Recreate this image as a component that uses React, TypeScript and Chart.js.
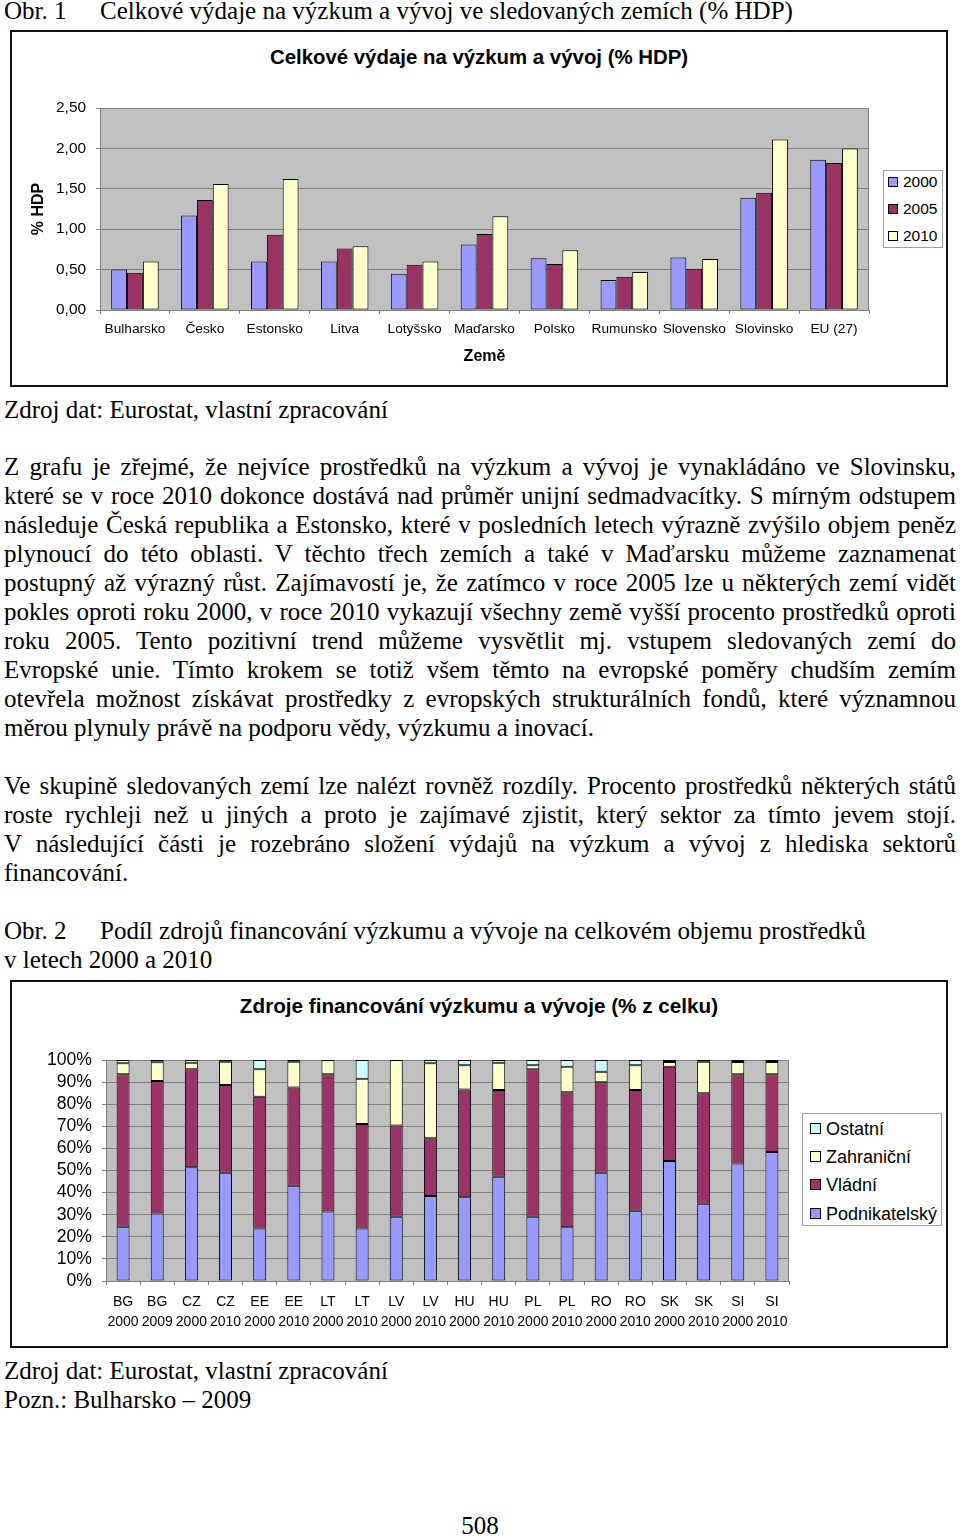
import React, { useEffect, useRef } from "react";
import { Chart, registerables } from "chart.js";

Chart.register(...registerables);
Chart.defaults.font.family = '"Liberation Sans", Arial, sans-serif';
Chart.defaults.color = "#000";

// ---------- Chart 1 data ----------
const countries = ["Bulharsko", "Česko", "Estonsko", "Litva", "Lotyšsko", "Maďarsko", "Polsko", "Rumunsko", "Slovensko", "Slovinsko", "EU (27)"];
const years1 = ["2000", "2005", "2010"];
const rd2000 = [0.50, 1.17, 0.60, 0.60, 0.45, 0.81, 0.64, 0.37, 0.65, 1.39, 1.86];
const rd2005 = [0.46, 1.36, 0.93, 0.76, 0.56, 0.94, 0.57, 0.41, 0.51, 1.45, 1.82];
const rd2010 = [0.60, 1.56, 1.62, 0.79, 0.60, 1.16, 0.74, 0.47, 0.63, 2.11, 2.00];
const yearColors = ["#9999FF", "#993366", "#FFFFCC"];

// ---------- Chart 2 data ----------
const sourceLabels = [
  ["BG", "2000"], ["BG", "2009"], ["CZ", "2000"], ["CZ", "2010"], ["EE", "2000"], ["EE", "2010"],
  ["LT", "2000"], ["LT", "2010"], ["LV", "2000"], ["LV", "2010"], ["HU", "2000"], ["HU", "2010"],
  ["PL", "2000"], ["PL", "2010"], ["RO", "2000"], ["RO", "2010"], ["SK", "2000"], ["SK", "2010"],
  ["SI", "2000"], ["SI", "2010"],
];
const podnikatelsky = [24.5, 30.5, 51.5, 49, 23.7, 43.1, 31.4, 23.7, 29.1, 38.5, 37.9, 47.2, 29.1, 24.3, 49, 31.8, 54.3, 35, 53.2, 58.4];
const vladni = [69, 60, 44.3, 39.7, 59.7, 44.5, 62.1, 47.3, 41.3, 26.1, 48.8, 39.2, 66.7, 61.1, 40.9, 54.6, 42.7, 49.9, 40.3, 35.1];
const zahranicni = [5, 8.5, 3, 10.5, 12.4, 11.6, 6.5, 20.5, 29.6, 33.9, 10.9, 12.4, 1.8, 11.6, 4.8, 11.2, 2.1, 14.3, 5.6, 5.6];
const ostatni = [1.5, 1, 1.2, 0.8, 4.2, 0.8, 0, 8.5, 0, 1.5, 2.4, 1.2, 2.4, 3, 5.3, 2.4, 0.9, 0.8, 0.9, 0.9];
const sourceNames = ["Podnikatelský", "Vládní", "Zahraniční", "Ostatní"];
const sourceColors = ["#9999FF", "#993366", "#FFFFCC", "#CCFFFF"];

// ---------- Text ----------
const para1 = [
  "Z grafu je zřejmé, že nejvíce prostředků na výzkum a vývoj je vynakládáno ve Slovinsku,",
  "které se v roce 2010 dokonce dostává nad průměr unijní sedmadvacítky. S mírným odstupem",
  "následuje Česká republika a Estonsko, které v posledních letech výrazně zvýšilo objem peněz",
  "plynoucí do této oblasti. V těchto třech zemích a také v Maďarsku můžeme zaznamenat",
  "postupný až výrazný růst. Zajímavostí je, že zatímco v roce 2005 lze u některých zemí vidět",
  "pokles oproti roku 2000, v roce 2010 vykazují všechny země vyšší procento prostředků oproti",
  "roku 2005. Tento pozitivní trend můžeme vysvětlit mj. vstupem sledovaných zemí do",
  "Evropské unie. Tímto krokem se totiž všem těmto na evropské poměry chudším zemím",
  "otevřela možnost získávat prostředky z evropských strukturálních fondů, které významnou",
  "měrou plynuly právě na podporu vědy, výzkumu a inovací.",
];
const para2 = [
  "Ve skupině sledovaných zemí lze nalézt rovněž rozdíly. Procento prostředků některých států",
  "roste rychleji než u jiných a proto je zajímavé zjistit, který sektor za tímto jevem stojí.",
  "V následující části je rozebráno složení výdajů na výzkum a vývoj z hlediska sektorů",
  "financování.",
];

const plotBg = {
  id: "plotBg",
  beforeDraw(chart: any) {
    const { ctx, chartArea } = chart;
    ctx.save();
    ctx.fillStyle = "#C0C0C0";
    ctx.fillRect(chartArea.left, chartArea.top, chartArea.right - chartArea.left, chartArea.bottom - chartArea.top);
    ctx.restore();
  },
  beforeDatasetsDraw(chart: any) {
    const { ctx, chartArea } = chart;
    ctx.save();
    ctx.strokeStyle = "#808080";
    ctx.lineWidth = 1;
    ctx.strokeRect(Math.round(chartArea.left) + 0.5, Math.round(chartArea.top) + 0.5, Math.round(chartArea.right - chartArea.left) - 1, Math.round(chartArea.bottom - chartArea.top));
    ctx.restore();
  },
};

function ChartCanvas({ config, left, top, width, height }: any) {
  const ref = useRef<HTMLCanvasElement>(null);
  useEffect(() => {
    const chart = new Chart(ref.current as HTMLCanvasElement, config);
    return () => chart.destroy();
  }, []);
  return (
    <canvas
      ref={ref}
      width={width}
      height={height}
      style={{ position: "absolute", left, top, width, height, display: "block" }}
    />
  );
}

const chart1Config: any = {
  type: "bar",
  data: {
    labels: countries,
    datasets: [rd2000, rd2005, rd2010].map((d, i) => ({
      label: years1[i],
      data: d,
      backgroundColor: yearColors[i],
      borderColor: "#000",
      borderWidth: 1,
      borderSkipped: false,
      barPercentage: 1,
      categoryPercentage: 0.68,
    })),
  },
  options: {
    responsive: false,
    animation: false,
    layout: { padding: { left: 0, right: 77, top: 76, bottom: 0 } },
    plugins: { legend: { display: false }, title: { display: false }, tooltip: { enabled: false } },
    scales: {
      x: {
        afterFit: (s: any) => { s.height = 75; },
        grid: { display: true, drawOnChartArea: false, drawTicks: true, tickLength: 4, color: "#808080", offset: true },
        border: { display: true, color: "#808080" },
        ticks: { font: { size: 13.7 }, padding: 7, maxRotation: 0, autoSkip: false },
        title: { display: true, text: "Země", font: { size: 16, weight: "bold" }, padding: { top: 0, bottom: 19 } },
      },
      y: {
        min: 0,
        max: 2.5,
        afterFit: (s: any) => { s.width = 88; },
        ticks: { stepSize: 0.5, autoSkip: false, font: { size: 15.4 }, padding: 10, callback: (v: any) => Number(v).toFixed(2).replace(".", ",") },
        grid: { color: "#808080", tickLength: 4 },
        border: { display: true, color: "#808080" },
        title: { display: true, text: "% HDP", font: { size: 16, weight: "bold" }, padding: { top: 17, bottom: 0 } },
      },
    },
  },
  plugins: [plotBg],
};

const chart2Config: any = {
  type: "bar",
  data: {
    labels: sourceLabels,
    datasets: [podnikatelsky, vladni, zahranicni, ostatni].map((d, i) => ({
      label: sourceNames[i],
      data: d,
      backgroundColor: sourceColors[i],
      borderColor: "#000",
      borderWidth: 1,
      borderSkipped: false,
      barPercentage: 0.38,
      categoryPercentage: 1,
    })),
  },
  options: {
    responsive: false,
    animation: false,
    layout: { padding: { left: 0, right: 157, top: 78, bottom: 0 } },
    plugins: { legend: { display: false }, title: { display: false }, tooltip: { enabled: false } },
    scales: {
      x: {
        stacked: true,
        afterFit: (s: any) => { s.height = 65; },
        grid: { display: true, drawOnChartArea: false, drawTicks: true, tickLength: 4, color: "#808080", offset: true },
        border: { display: true, color: "#808080" },
        ticks: { font: { size: 14, lineHeight: 1.43 }, padding: 7, maxRotation: 0, autoSkip: false },
      },
      y: {
        stacked: true,
        min: 0,
        max: 100,
        afterFit: (s: any) => { s.width = 94; },
        ticks: { stepSize: 10, autoSkip: false, font: { size: 17.6, lineHeight: 1 }, padding: 10, callback: (v: any) => v + "%" },
        grid: { color: "#808080", tickLength: 4 },
        border: { display: true, color: "#808080" },
      },
    },
  },
  plugins: [plotBg],
};

const serif = '"Liberation Serif", "Times New Roman", serif';
const sans = '"Liberation Sans", Arial, sans-serif';

function TextLine({ top, text, justify }: { top: number; text: string; justify: boolean }) {
  return (
    <div
      style={{
        position: "absolute",
        left: 4,
        width: 952,
        top,
        height: 29,
        lineHeight: "29px",
        fontSize: 25,
        fontFamily: serif,
        textAlign: justify ? "justify" : "left",
        textAlignLast: justify ? "justify" : "left",
        color: "#000",
      } as any}
    >
      {text}
    </div>
  );
}

function Plain({ top, left, children, size = 25 }: any) {
  return (
    <div style={{ position: "absolute", left, top, lineHeight: "29px", fontSize: size, fontFamily: serif, whiteSpace: "nowrap", color: "#000" }}>
      {children}
    </div>
  );
}

function Swatch({ left, top, color, size }: any) {
  return <div style={{ position: "absolute", left, top, width: size, height: size, background: color, border: "1px solid #000", boxSizing: "border-box" }} />;
}

export default function App() {
  const legend1Tops = [182, 209, 236];
  const legend2 = [
    { name: "Ostatní", color: "#CCFFFF", y: 1129 },
    { name: "Zahraniční", color: "#FFFFCC", y: 1157 },
    { name: "Vládní", color: "#993366", y: 1185 },
    { name: "Podnikatelský", color: "#9999FF", y: 1214 },
  ];
  return (
    <div style={{ position: "absolute", left: 0, top: 0, width: 960, height: 1537, overflow: "hidden", background: "#fff" }}>
      <Plain top={-4} left={4}>Obr. 1</Plain>
      <Plain top={-4} left={100}>Celkové výdaje na výzkum a vývoj ve sledovaných zemích (% HDP)</Plain>

      {/* Chart 1 box */}
      <div style={{ position: "absolute", left: 10, top: 30, width: 938, height: 357, border: "2px solid #111", boxSizing: "border-box" }} />
      <div style={{ position: "absolute", left: 10, top: 45, width: 938, textAlign: "center", fontFamily: sans, fontWeight: "bold", fontSize: 20.4, lineHeight: "24px" }}>
        Celkové výdaje na výzkum a vývoj (% HDP)
      </div>
      <ChartCanvas config={chart1Config} left={12} top={32} width={934} height={353} />
      <div style={{ position: "absolute", left: 883, top: 170, width: 60, height: 78, border: "1px solid #A0A0A0", boxSizing: "border-box", background: "#fff" }} />
      {years1.map((y, i) => (
        <React.Fragment key={y}>
          <Swatch left={888} top={legend1Tops[i] - 5} color={yearColors[i]} size={10} />
          <div style={{ position: "absolute", left: 903, top: legend1Tops[i] - 9, fontFamily: sans, fontSize: 15.5, lineHeight: "18px" }}>{y}</div>
        </React.Fragment>
      ))}

      <Plain top={395} left={4}>Zdroj dat: Eurostat, vlastní zpracování</Plain>

      {para1.map((t, i) => (
        <TextLine key={"p1" + i} top={451.5 + 29 * i} text={t} justify={i < para1.length - 1} />
      ))}
      {para2.map((t, i) => (
        <TextLine key={"p2" + i} top={770.5 + 29 * i} text={t} justify={i < para2.length - 1} />
      ))}

      <Plain top={915.5} left={4}>Obr. 2</Plain>
      <Plain top={915.5} left={100}>Podíl zdrojů financování výzkumu a vývoje na celkovém objemu prostředků</Plain>
      <Plain top={944.5} left={4}>v letech 2000 a 2010</Plain>

      {/* Chart 2 box */}
      <div style={{ position: "absolute", left: 10, top: 980, width: 938, height: 368, border: "2px solid #111", boxSizing: "border-box" }} />
      <div style={{ position: "absolute", left: 10, top: 994, width: 938, textAlign: "center", fontFamily: sans, fontWeight: "bold", fontSize: 20.7, lineHeight: "24px" }}>
        Zdroje financování výzkumu a vývoje (% z celku)
      </div>
      <ChartCanvas config={chart2Config} left={12} top={982} width={934} height={364} />
      <div style={{ position: "absolute", left: 802, top: 1113, width: 140, height: 113, border: "1px solid #A0A0A0", boxSizing: "border-box", background: "#fff" }} />
      {legend2.map((l) => (
        <React.Fragment key={l.name}>
          <Swatch left={810} top={l.y - 6} color={l.color} size={11} />
          <div style={{ position: "absolute", left: 826, top: l.y - 11, fontFamily: sans, fontSize: 18, lineHeight: "22px" }}>{l.name}</div>
        </React.Fragment>
      ))}

      <Plain top={1355.5} left={4}>Zdroj dat: Eurostat, vlastní zpracování</Plain>
      <Plain top={1384.5} left={4}>Pozn.: Bulharsko – 2009</Plain>
      <div style={{ position: "absolute", left: 0, width: 960, top: 1510.5, textAlign: "center", lineHeight: "29px", fontSize: 25, fontFamily: serif }}>508</div>
    </div>
  );
}
